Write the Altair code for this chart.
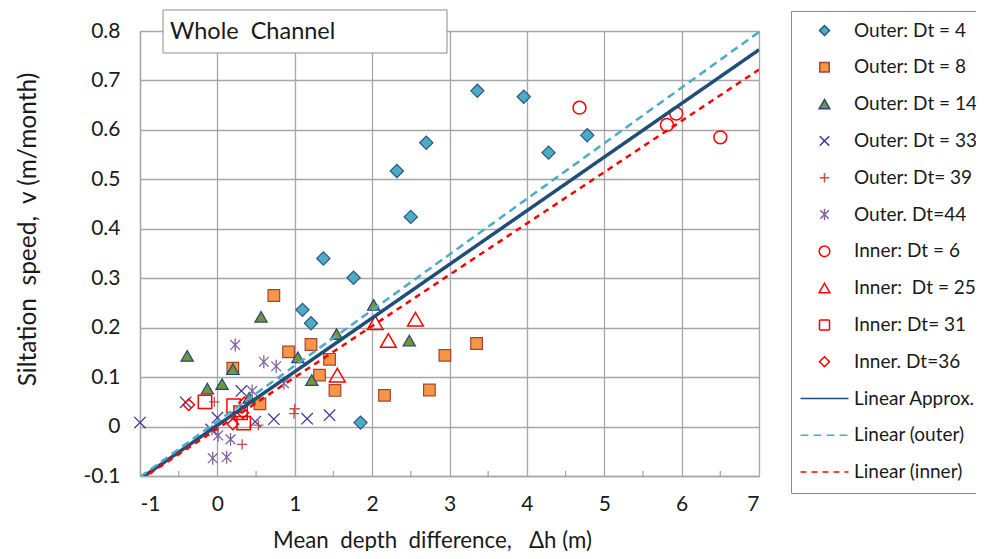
import json
import altair as alt
import pandas as pd

# ---------------- data ----------------
SERIES = ["Outer: Dt = 4", "Outer: Dt = 8", "Outer: Dt = 14", "Outer: Dt = 33",
          "Outer: Dt= 39", "Outer. Dt=44", "Inner: Dt = 6", "Inner:  Dt = 25",
          "Inner: Dt= 31", "Inner. Dt=36", "Linear Approx.", "Linear (outer)",
          "Linear (inner)"]

dh_o4 = [1.10, 1.21, 1.37, 1.76, 1.85, 2.32, 2.50, 2.70, 3.36, 3.96, 4.28, 4.78]
v_o4 = [0.236, 0.209, 0.340, 0.301, 0.008, 0.517, 0.424, 0.574, 0.679, 0.667, 0.554, 0.589]

dh_o8 = [0.20, 0.55, 0.73, 0.92, 1.21, 1.32, 1.45, 1.52, 2.16, 2.74, 2.94, 3.35]
v_o8 = [0.118, 0.046, 0.265, 0.151, 0.166, 0.104, 0.136, 0.073, 0.063, 0.074, 0.144, 0.168]

dh_o14 = [-0.39, -0.13, 0.06, 0.20, 0.41, 0.565, 1.04, 1.22, 1.54, 2.02, 2.48]
v_o14 = [0.143, 0.077, 0.086, 0.116, 0.058, 0.222, 0.140, 0.094, 0.187, 0.246, 0.174]

dh_o33 = [-1.0, -0.41, 0.0, -0.08, 0.31, 0.49, 0.73, 1.16, 1.45]
v_o33 = [0.008, 0.049, 0.018, -0.006, 0.072, 0.010, 0.015, 0.016, 0.023]

dh_o39 = [-0.04, -0.07, 0.32, 0.53, 0.99, 1.00]
v_o39 = [0.050, -0.007, -0.036, 0.003, 0.026, 0.036]

dh_o44 = [-0.06, 0.01, 0.12, 0.17, 0.23, 0.45, 0.60, 0.76, 0.86]
v_o44 = [-0.064, -0.018, -0.062, -0.026, 0.165, 0.072, 0.131, 0.122, 0.088]

dh_i6 = [4.68, 5.81, 5.93, 6.50]
v_i6 = [0.645, 0.610, 0.633, 0.585]

dh_i25 = [1.55, 2.04, 2.21, 2.56]
v_i25 = [0.104, 0.210, 0.174, 0.217]

dh_i31 = [-0.16, 0.21, 0.30, 0.34]
v_i31 = [0.050, 0.042, 0.028, 0.007]

dh_i36 = [-0.37, 0.20, 0.33, 0.35]
v_i36 = [0.044, 0.005, 0.028, 0.048]

# trend lines (end points)
line_dh = [-1, 7]
approx_v = [-0.106, 0.762]
outer_v = [-0.102, 0.798]
inner_v = [-0.108, 0.722]

x_ticks = [-1, 0, 1, 2, 3, 4, 5, 6, 7]
x_minor = [-0.5, 0.5, 1.5, 2.5, 3.5, 4.5, 5.5, 6.5]
y_ticks = [-0.1, 0, 0.1, 0.2, 0.3, 0.4, 0.5, 0.6, 0.7, 0.8]

NB = "\u00a0"
panel_title = f"Whole{NB} Channel"
x_title = f"Mean{NB} depth{NB} difference,{NB}{NB} \u0394h (m)"
y_title = f"Siltation{NB} speed,{NB} v (m/month)"

# ---------------- styles ----------------
X_PATH = "M-1,-1L1,1M-1,1L1,-1"
PLUS_PATH = "M-1,0L1,0M0,-1L0,1"
AST_PATH = "M-0.75,-0.75L0.75,0.75M-0.75,0.75L0.75,-0.75M0,-1L0,1"
LINE_PATH = "M-4.8,0L4.8,0"   # long horizontal legend swatch for the trend lines
SHAPES = ["diamond", "square", "triangle-up", X_PATH, PLUS_PATH, AST_PATH,
          "circle", "triangle-up", "square", "diamond", LINE_PATH, LINE_PATH, LINE_PATH]
FILLS = ["#4BACC6", "#F79646", "#77933C"] + ["transparent"] * 10
STROKES = ["#2A5783", "#A5452F", "#1F497D", "#3B3B9E", "#C0504D", "#8064A2",
           "#FF0000", "#FF0000", "#FF0000", "#FF0000", "#1F4E79", "#4BACC6", "#FF0000"]
SIZES = [175, 135, 150, 130, 105, 170, 165, 250, 180, 130, 0, 0, 0]
LEGEND_SIZES = [100, 90, 110, 90, 90, 130, 110, 120, 100, 100, 100, 100, 100]
WIDTHS = [1.2, 1.2, 1.2, 1.3, 1.3, 1.3, 1.5, 1.5, 1.5, 1.5, 3.5, 2.5, 2.5]
DASHES = [[1, 0]] * 11 + [[8, 5], [6, 5]]

FONT = "Lato"
GRID = "#A6A6A6"
TXT = "#1a1a1a"

W, H = 619, 445

# ---------------- tables ----------------
point_sets = [(dh_o4, v_o4), (dh_o8, v_o8), (dh_o14, v_o14), (dh_o33, v_o33),
              (dh_o39, v_o39), (dh_o44, v_o44), (dh_i6, v_i6), (dh_i25, v_i25),
              (dh_i31, v_i31), (dh_i36, v_i36)]
rows = []
for i, (xs, ys) in enumerate(point_sets):
    for xv, yv in zip(xs, ys):
        rows.append({"series": SERIES[i], "dh": xv, "v": yv,
                     "sz": SIZES[i], "sw": WIDTHS[i]})
pts = pd.DataFrame(rows)

lrows = []
for j, ys in enumerate([approx_v, outer_v, inner_v]):
    k = 10 + j
    for xv, yv in zip(line_dh, ys):
        lrows.append({"series": SERIES[k], "dh": xv, "v": yv, "sw": WIDTHS[k]})
lns = pd.DataFrame(lrows)

# ---------------- scales / axes ----------------
xscale = alt.Scale(domain=[-1, 7], nice=False, zero=False)
yscale = alt.Scale(domain=[-0.1, 0.8], nice=False, zero=False)

xaxis = alt.Axis(values=x_ticks, grid=True, ticks=False, labelExpr="'' + datum.value",
                 labelPadding=17, labelFontSize=21, labelFont=FONT, labelColor=TXT,
                 title=x_title, titleFont=FONT,
                 titleFontSize=22.3, titleFontWeight="normal", titleColor=TXT,
                 titleX=292, titleY=64, titleBaseline="middle", titleAlign="center")
yaxis = alt.Axis(values=y_ticks, grid=True, ticks=False, labelExpr="'' + datum.value",
                 labelPadding=20, labelFontSize=21, labelFont=FONT, labelColor=TXT,
                 title=y_title, titleFont=FONT,
                 titleFontSize=24.5, titleFontWeight="normal", titleColor=TXT,
                 titleX=-112, titleY=198, titleBaseline="middle", titleAlign="center",
                 titleAngle=270)

sj = json.dumps(SERIES)
# the legend evaluates these both with datum = entry object and datum = raw value
idx = f"indexof({sj}, isString(datum) ? datum : datum.value)"
legend_encode = {
    "symbols": {
        "fill": {"value": {"expr": f"{json.dumps(FILLS)}[{idx}]"}},
        "stroke": {"value": {"expr": f"{json.dumps(STROKES)}[{idx}]"}},
        "strokeDash": {"value": {"expr": f"{json.dumps(DASHES)}[{idx}]"}},
        "strokeWidth": {"value": {"expr": f"{json.dumps(WIDTHS)}[{idx}]"}},
        "opacity": {"value": 1},
    }
}
legend = alt.Legend(title=None, orient="none", legendX=651, legendY=-20,
                    direction="vertical", padding=10, strokeColor="#8C8C8C",
                    fillColor="white", rowPadding=16.8, symbolOffset=14, labelOffset=20,
                    symbolSize={"expr": f"{json.dumps(LEGEND_SIZES)}[{idx}]"},
                    labelExpr=f"replace(datum.label, '  ', ' {NB}')",
                    labelFont=FONT, labelFontSize=19, labelColor=TXT, labelLimit=300)

# ---------------- layers ----------------
minor = alt.Chart(pd.DataFrame({"dh": x_minor})).mark_rule(
    color=GRID, strokeWidth=1.3).encode(
    x=alt.X("dh:Q", scale=xscale, axis=xaxis), y=alt.value(H - 5), y2=alt.value(H))

title_df = pd.DataFrame({"label": [panel_title]})
box = alt.Chart(title_df).mark_rect(fill="white", stroke="#8C8C8C", strokeWidth=1).encode(
    x=alt.value(23), x2=alt.value(307), y=alt.value(-21), y2=alt.value(22))
box_text = alt.Chart(title_df).mark_text(
    align="left", baseline="middle", font=FONT, fontSize=23.5, color=TXT).encode(
    x=alt.value(30), y=alt.value(1), text="label:N")

points = alt.Chart(pts).mark_point(opacity=1).encode(
    x=alt.X("dh:Q", scale=xscale, axis=xaxis),
    y=alt.Y("v:Q", scale=yscale, axis=yaxis),
    shape=alt.Shape("series:N", scale=alt.Scale(domain=SERIES, range=SHAPES),
                    legend=legend),
    fill=alt.Fill("series:N", scale=alt.Scale(domain=SERIES, range=FILLS), legend=None),
    stroke=alt.Stroke("series:N", scale=alt.Scale(domain=SERIES, range=STROKES),
                      legend=None),
    size=alt.Size("sz:Q", scale=None),
    strokeWidth=alt.StrokeWidth("sw:Q", scale=None),
)

lines = alt.Chart(lns).mark_line(clip=True, strokeCap="butt").encode(
    x=alt.X("dh:Q", scale=xscale, axis=xaxis),
    y=alt.Y("v:Q", scale=yscale, axis=yaxis),
    stroke=alt.Stroke("series:N", scale=alt.Scale(domain=SERIES, range=STROKES),
                      legend=None),
    strokeDash=alt.StrokeDash("series:N", scale=alt.Scale(domain=SERIES, range=DASHES),
                              legend=None),
    strokeWidth=alt.StrokeWidth("sw:Q", scale=None),
)


class LegendEncodedLayer(alt.LayerChart):
    """LayerChart that adds the custom legend symbol encoding to its spec."""

    def to_dict(self, *args, **kwargs):
        spec = super().to_dict(*args, **kwargs)
        for lyr in spec.get("layer", []):
            shp = lyr.get("encoding", {}).get("shape")
            if shp and isinstance(shp.get("legend"), dict):
                shp["legend"]["encode"] = legend_encode
        return spec


chart = alt.layer(minor, box, box_text, points, lines).properties(
    width=W, height=H,
    padding={"left": 132, "top": 23, "right": 217, "bottom": 75},
    autosize=alt.AutoSizeParams(type="none"),
    background="white",
).configure_view(stroke=None).configure_axis(
    gridColor=GRID, gridWidth=1.3, domainColor=GRID, domainWidth=1.3)

object.__setattr__(chart, "__class__", LegendEncodedLayer)

chart.save("out.html", embed_options={"renderer": "svg", "actions": False})
